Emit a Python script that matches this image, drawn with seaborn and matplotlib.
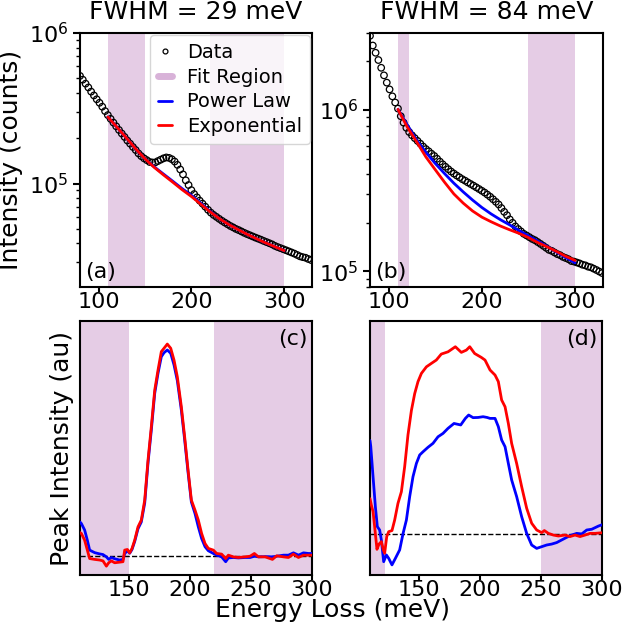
import numpy as np
import matplotlib
matplotlib.use("Agg")
import matplotlib.pyplot as plt
from matplotlib.lines import Line2D
from matplotlib.ticker import NullFormatter
import seaborn as sns

# -----------------------------
# Data
# -----------------------------
# raw spectra, 3 meV sampling
energy_raw = np.arange(80, 330, 3)

data_a = [519e3, 490e3, 461e3, 435e3, 408e3, 385e3, 363e3, 344e3, 324e3, 303e3,
          285e3, 269e3, 254e3, 240e3, 227e3, 215e3, 204e3, 193e3, 184e3, 175e3,
          167e3, 158.5e3, 152e3, 147e3, 143e3, 139e3, 138e3, 138e3, 141e3, 144e3,
          147e3, 149e3, 148e3, 145e3, 140e3, 133e3, 124e3, 115e3, 105e3, 97.7e3,
          90.4e3, 85.1e3, 80.9e3, 76.9e3, 73.5e3, 70.1e3, 66.8e3, 64.0e3, 61.8e3, 60.0e3,
          58.2e3, 56.5e3, 55.0e3, 53.6e3, 52.2e3, 51.1e3, 49.9e3, 49.0e3, 48.0e3, 47.0e3,
          46.1e3, 45.3e3, 44.5e3, 43.7e3, 43.0e3, 42.3e3, 41.5e3, 40.8e3, 40.1e3, 39.4e3,
          38.5e3, 37.8e3, 37.2e3, 36.6e3, 36.0e3, 35.4e3, 34.8e3, 34.2e3, 33.5e3, 32.8e3,
          32.4e3, 32.1e3, 31.5e3, 31.0e3]

data_b = [2884e3, 2512e3, 2265e3, 2042e3, 1828e3, 1641e3, 1479e3, 1343e3, 1216e3, 1114e3,
          1021e3, 916e3, 836e3, 776e3, 731e3, 698e3, 670e3, 644e3, 619e3, 594e3,
          573e3, 555e3, 536e3, 519e3, 499e3, 479e3, 461e3, 445e3, 430e3, 416e3,
          404e3, 393e3, 383e3, 373e3, 365e3, 356e3, 348e3, 340e3, 332e3, 324e3,
          316e3, 308e3, 299e3, 290e3, 280e3, 270e3, 260e3, 247e3, 234e3, 223e3,
          210e3, 200e3, 190e3, 183e3, 177e3, 171e3, 167e3, 163e3, 159e3, 156e3,
          152e3, 148e3, 144e3, 140e3, 136e3, 134e3, 131e3, 128e3, 126e3, 123e3,
          121e3, 119e3, 116e3, 115e3, 113.5e3, 112e3, 110e3, 109e3, 107e3, 106e3,
          104e3, 102e3, 99.8e3, 97.7e3]

# background fits, 10 meV sampling
energy_fit = np.arange(110, 301, 10)
fit_a_pow = [277e3, 236e3, 201e3, 170e3, 146e3, 129e3, 115.5e3, 103.5e3, 92.5e3, 83.5e3,
             74e3, 65.5e3, 58.5e3, 53.5e3, 49.5e3, 46e3, 43e3, 40.3e3, 38e3, 35.8e3]
fit_a_exp = [277e3, 236e3, 201e3, 170e3, 146e3, 128e3, 114e3, 102e3, 91e3, 82e3,
             73e3, 65e3, 58.5e3, 53.5e3, 49.5e3, 46e3, 43e3, 40.3e3, 38e3, 35.8e3]
fit_b_pow = [1010e3, 808e3, 651e3, 547e3, 467e3, 404e3, 352e3, 311e3, 277e3, 249e3,
             227e3, 209e3, 194e3, 179e3, 166e3, 154e3, 143e3, 132e3, 122e3, 113e3]
fit_b_exp = [1010e3, 785e3, 636e3, 512e3, 427e3, 357e3, 302e3, 265e3, 237e3, 217e3,
             203e3, 191e3, 181e3, 172e3, 162e3, 151e3, 142e3, 133e3, 124e3, 117e3]

# background-subtracted peaks
energy_c = [110, 111.1, 113.8, 116, 117.9, 122, 126.1, 128.8, 131.6, 133.5,
            135.7, 138.4, 142.5, 145.2, 146.6, 148.8, 150.7, 152.6, 154.8, 157.5,
            160.2, 163, 165.7, 168.4, 171.2, 173.9, 176.6, 178.8, 181.5, 184.3,
            187, 189.7, 193, 195.7, 198.5, 201.2, 204.2, 206.9, 209.6, 212.4,
            215.1, 219.2, 221.9, 226, 229.3, 231.5, 235.6, 239.7, 245.2, 249.3,
            252.8, 256.1, 261.6, 267.6, 271.1, 276.6, 280.7, 284.8, 288.9, 293,
            297.1, 301]
peak_c_exp = [0.11, 0.106, 0.074, 0.027, -0.013, -0.017, -0.02, -0.024, -0.049, -0.033,
              -0.024, -0.033, -0.03, -0.028, 0.027, 0.030, 0.014, 0.035, 0.074, 0.137,
              0.169, 0.264, 0.453, 0.611, 0.785, 0.88, 0.967, 0.983, 1.003, 0.983,
              0.927, 0.848, 0.706, 0.564, 0.406, 0.264, 0.216, 0.169, 0.106, 0.058,
              0.035, 0.027, 0.011, 0.008, -0.013, 0.003, -0.005, -0.008, -0.005, -0.002,
              0.011, -0.005, -0.005, -0.017, 0.0, -0.005, -0.008, 0.008, -0.008, 0.003,
              0.003, 0.003]
peak_c_pow = [0.16, 0.153, 0.122, 0.074, 0.027, 0.015, 0.009, 0.006, -0.005, -0.017,
              -0.008, -0.014, -0.02, -0.017, 0.01, 0.025, 0.012, 0.03, 0.068, 0.128,
              0.16, 0.25, 0.44, 0.595, 0.77, 0.865, 0.943, 0.962, 0.975, 0.959,
              0.904, 0.83, 0.69, 0.55, 0.395, 0.255, 0.2, 0.137, 0.082, 0.043,
              0.024, 0.011, 0.003, -0.005, -0.028, -0.01, -0.008, -0.01, -0.008, -0.008,
              -0.002, -0.005, -0.004, -0.005, -0.002, 0.003, 0.003, 0.014, 0.003, 0.014,
              0.011, 0.011]

energy_d_exp = [110, 111.1, 112.5, 113.8, 115.7, 117.4, 119.3, 120.9, 122, 123.7,
                125.3, 128, 130.2, 132.9, 135.7, 138.4, 141.1, 143.9, 146.6, 149.3,
                152.1, 156.2, 160.2, 164.3, 168.4, 173.9, 179.9, 184.8, 188.9, 191.7,
                195.7, 201.2, 204.2, 208.3, 212.4, 215.1, 217.8, 220.6, 223.3, 226,
                230.1, 234.2, 238.3, 242.4, 246.5, 250.6, 252.8, 256.1, 260.2, 264.3,
                269.7, 273.8, 277.9, 282, 286.1, 290.2, 294.3, 301.1]
peak_d_exp = [0.19, 0.156, 0.121, 0.041, -0.08, -0.052, -0.039, -0.083, -0.101, -0.012,
              0.014, 0.02, 0.076, 0.165, 0.227, 0.361, 0.53, 0.66, 0.75, 0.814,
              0.858, 0.893, 0.911, 0.929, 0.961, 0.973, 1.0, 0.97, 0.982, 1.0,
              0.964, 0.943, 0.929, 0.876, 0.849, 0.814, 0.716, 0.68, 0.591, 0.485,
              0.378, 0.254, 0.139, 0.059, 0.023, 0.009, 0.02, 0.005, -0.004, -0.009,
              -0.004, -0.012, -0.004, -0.012, -0.004, 0.005, 0.005, 0.009]

energy_d_pow = [110, 110.6, 112.5, 114.4, 116, 117.9, 119.3, 121.2, 123.4, 125.3,
                128, 130.8, 134.3, 137.1, 139.8, 142.5, 145.2, 148, 150.7, 153.4,
                157.5, 161.6, 165.7, 169.8, 173.9, 178.8, 184.3, 188.1, 190.8, 194.4,
                198.5, 202.6, 205.9, 208.3, 212.4, 215.1, 217.8, 220.6, 223.3, 226,
                230.1, 234.2, 238.3, 242.4, 246.5, 250.6, 254.7, 258.8, 262.9, 267,
                271.1, 275.2, 279.3, 283.4, 287.5, 291.6, 297.1, 301.7]
peak_d_pow = [0.50, 0.47, 0.307, 0.147, 0.041, 0.023, -0.03, -0.146, -0.11, -0.128,
              -0.163, -0.128, -0.083, 0.005, 0.076, 0.201, 0.307, 0.378, 0.423, 0.44,
              0.464, 0.485, 0.52, 0.538, 0.565, 0.591, 0.583, 0.618, 0.636, 0.622,
              0.623, 0.627, 0.623, 0.618, 0.618, 0.574, 0.503, 0.467, 0.378, 0.29,
              0.201, 0.094, 0.005, -0.057, -0.075, -0.066, -0.057, -0.052, -0.044, -0.03,
              -0.016, -0.004, 0.005, 0.002, 0.023, 0.027, 0.044, 0.055]

# fit windows (meV)
regions_29 = [(110, 150), (220, 300)]
regions_84 = [(110, 122), (250, 300)]

# -----------------------------
# Style
# -----------------------------
sns.set_style("ticks")
plt.rcParams["font.family"] = ["DejaVu Sans"]
plt.rcParams["axes.edgecolor"] = "black"
plt.rcParams["axes.linewidth"] = 1.5
plt.rcParams["xtick.color"] = "black"
plt.rcParams["ytick.color"] = "black"
plt.rcParams["text.color"] = "black"
plt.rcParams["axes.labelcolor"] = "black"

SHADE = "purple"
SHADE_ALPHA = 0.2

fig = plt.figure(figsize=(6.25, 6.24), dpi=100)
ax_a = fig.add_axes([0.128, 0.540, 0.3712, 0.407])
ax_b = fig.add_axes([0.592, 0.540, 0.3728, 0.407])
ax_c = fig.add_axes([0.128, 0.0785, 0.3712, 0.407])
ax_d = fig.add_axes([0.592, 0.0785, 0.3712, 0.407])


def shade(ax, regions):
    for lo, hi in regions:
        ax.axvspan(lo, hi, color=SHADE, alpha=SHADE_ALPHA, lw=0, zorder=0)


def top_panel(ax, data, fit_pow, fit_exp, regions, ylim, title, tag):
    shade(ax, regions)
    sns.scatterplot(x=energy_raw, y=data, ax=ax, marker="o", s=22,
                    facecolor="none", edgecolor="black", linewidth=0.9, zorder=2)
    sns.lineplot(x=energy_fit, y=fit_pow, ax=ax, color="blue", lw=2, zorder=3)
    sns.lineplot(x=energy_fit, y=fit_exp, ax=ax, color="red", lw=2, zorder=4)
    ax.set_yscale("log")
    ax.set_xlim(80, 330)
    ax.set_ylim(*ylim)
    ax.set_xticks([100, 200, 300])
    ax.yaxis.set_minor_formatter(NullFormatter())
    ax.set_title(title, fontsize=18, pad=10)
    ax.text(0.02, 0.02, tag, transform=ax.transAxes, fontsize=16,
            ha="left", va="bottom")


def bottom_panel(ax, e_pow, y_pow, e_exp, y_exp, regions, ylim, tag):
    shade(ax, regions)
    ax.axhline(0, color="black", ls="--", lw=1, zorder=1)
    sns.lineplot(x=e_pow, y=y_pow, ax=ax, color="blue", lw=2, zorder=3)
    sns.lineplot(x=e_exp, y=y_exp, ax=ax, color="red", lw=2, zorder=4)
    ax.set_xlim(110, 300)
    ax.set_ylim(*ylim)
    ax.set_xticks([150, 200, 250, 300])
    ax.set_yticks([])
    ax.text(0.98, 0.97, tag, transform=ax.transAxes, fontsize=16,
            ha="right", va="top")


top_panel(ax_a, data_a, fit_a_pow, fit_a_exp, regions_29, (2.05e4, 1e6),
          "FWHM = 29 meV", "(a)")
top_panel(ax_b, data_b, fit_b_pow, fit_b_exp, regions_84, (8e4, 3e6),
          "FWHM = 84 meV", "(b)")
bottom_panel(ax_c, energy_c, peak_c_pow, energy_c, peak_c_exp, regions_29,
             (-0.091, 1.112), "(c)")
bottom_panel(ax_d, energy_d_pow, peak_d_pow, energy_d_exp, peak_d_exp, regions_84,
             (-0.217, 1.137), "(d)")

for ax in (ax_a, ax_b, ax_c, ax_d):
    ax.tick_params(axis="y", which="major", length=5, width=1.5, labelsize=16,
                   direction="out")
    ax.tick_params(axis="y", which="minor", length=3, width=1, direction="out")
    ax.tick_params(axis="x", which="major", length=3.5, width=1.5, labelsize=16,
                   direction="out", pad=0)
    ax.set_xlabel("")
    for sp in ax.spines.values():
        sp.set_visible(True)

ax_a.set_ylabel("Intensity (counts)", fontsize=18)
ax_c.set_ylabel("Peak Intensity (au)", fontsize=18)
fig.text(0.532, 0.011, "Energy Loss (meV)", fontsize=18, ha="center", va="baseline")

# legend in panel (a)
handles = [
    Line2D([], [], marker="o", ls="", mfc="none", mec="black", ms=3.5, mew=0.9),
    Line2D([], [], color=SHADE, alpha=0.3, lw=5),
    Line2D([], [], color="blue", lw=2),
    Line2D([], [], color="red", lw=2),
]
labels = ["Data", "Fit Region", "Power Law", "Exponential"]
ax_a.legend(handles, labels, loc="upper right", fontsize=14, handlelength=0.7,
            labelspacing=0.3, borderaxespad=0.1, framealpha=0.8, frameon=True)

fig.savefig("out.png", dpi=100)
